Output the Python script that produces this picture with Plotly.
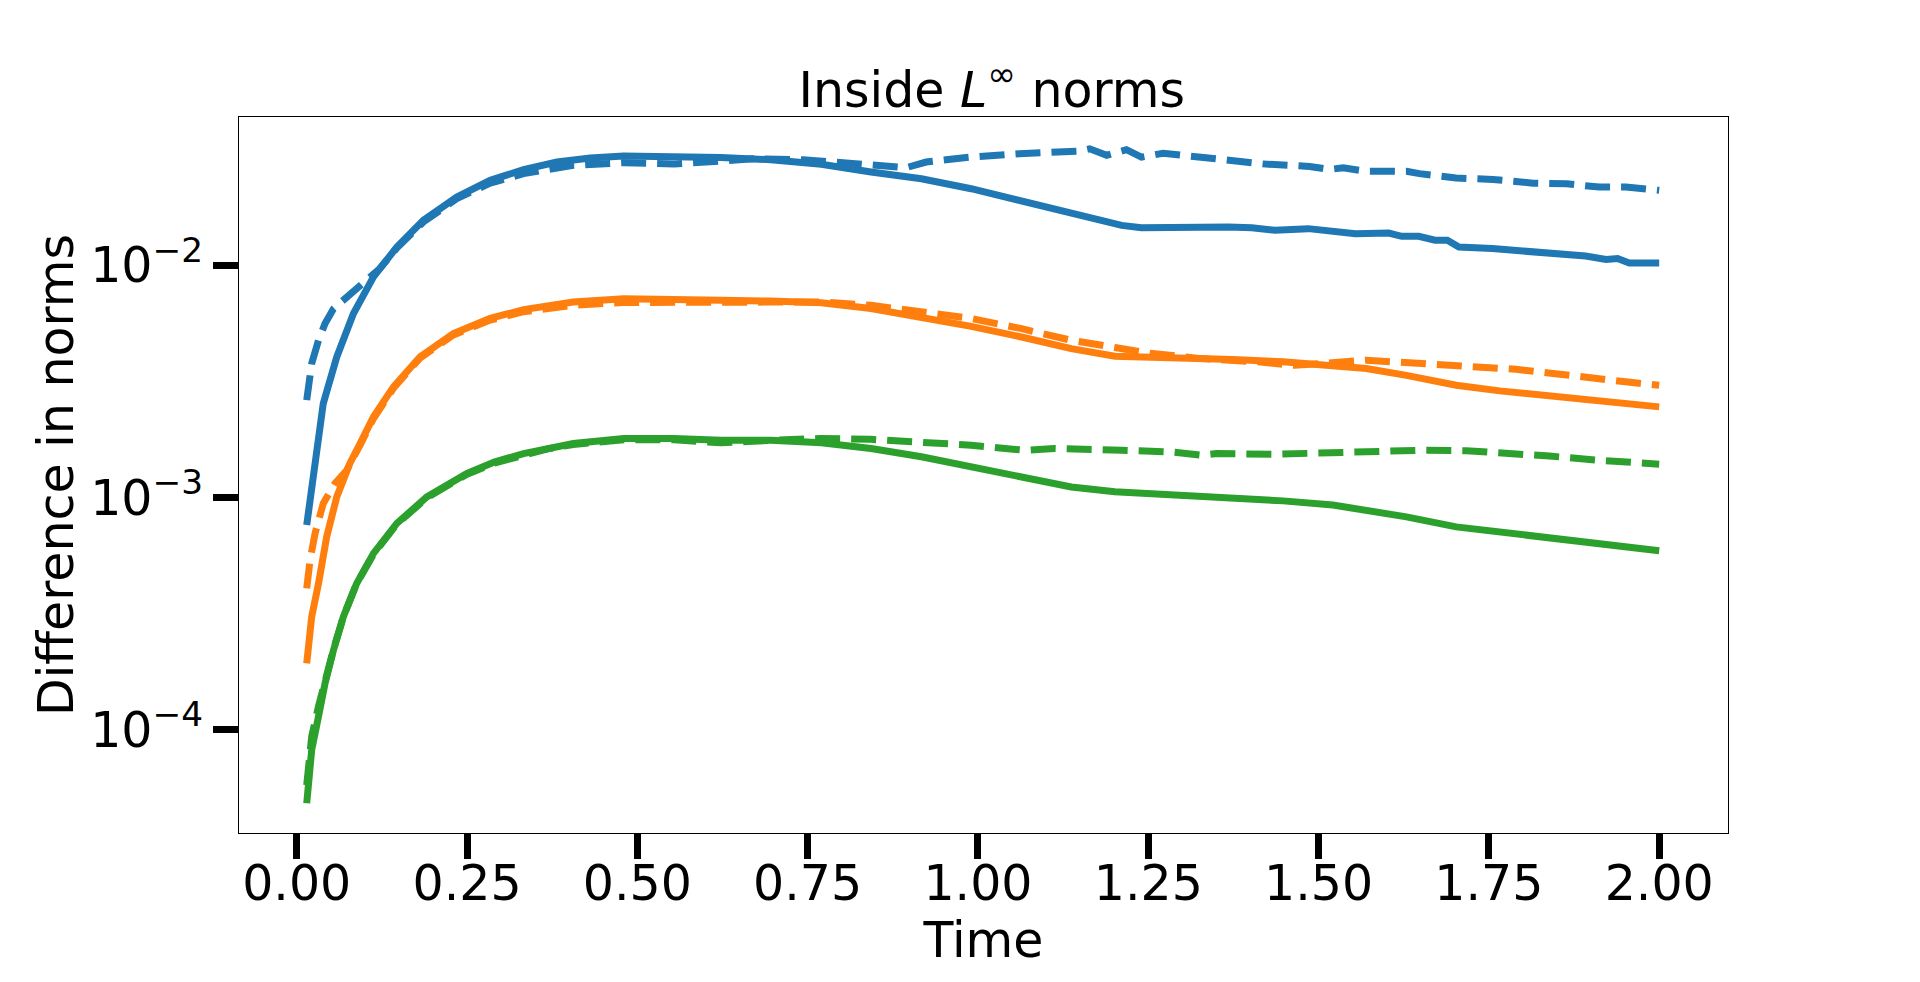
import numpy as np
import plotly.graph_objects as go

# values, stored as log10 of the norm difference
t_blue_solid = [0.0147, 0.0294, 0.039, 0.0588, 0.0833, 0.1127, 0.147, 0.186, 0.235, 0.284, 0.333, 0.382,
                0.431, 0.480, 0.554, 0.6225, 0.696, 0.770, 0.843, 0.917, 0.990, 1.064, 1.137, 1.211, 1.240,
                1.328, 1.368, 1.402, 1.436, 1.485, 1.524, 1.554, 1.603, 1.622, 1.647, 1.671, 1.689, 1.706,
                1.755, 1.819, 1.843, 1.892, 1.922, 1.939, 1.956, 2.0]
log_blue_solid = [-3.119, -2.768, -2.595, -2.395, -2.208, -2.050, -1.921, -1.806, -1.706, -1.634, -1.588, -1.555,
                  -1.538, -1.529, -1.529, -1.536, -1.545, -1.565, -1.598, -1.627, -1.670, -1.723, -1.780, -1.828,
                  -1.838, -1.832, -1.835, -1.838, -1.849, -1.842, -1.857, -1.864, -1.861, -1.875, -1.875, -1.892,
                  -1.892, -1.921, -1.928, -1.943, -1.953, -1.960, -1.975, -1.971, -1.990, -1.990]

t_blue_dash = [0.0147, 0.022, 0.032, 0.0416, 0.054, 0.0734, 0.0978, 0.122, 0.147, 0.186, 0.235, 0.284, 0.333,
               0.406, 0.480, 0.554, 0.6225, 0.670, 0.743, 0.817, 0.895, 0.924, 0.988, 1.061, 1.149, 1.164,
               1.189, 1.218, 1.240, 1.272, 1.326, 1.365, 1.418, 1.487, 1.516, 1.536, 1.570, 1.629, 1.648,
               1.702, 1.756, 1.815, 1.864, 1.912, 1.951, 2.0]
log_blue_dash = [-2.581, -2.423, -2.323, -2.251, -2.187, -2.136, -2.079, -2.014, -1.925, -1.813, -1.713, -1.646,
                 -1.605, -1.569, -1.558, -1.563, -1.551, -1.541, -1.545, -1.560, -1.579, -1.555, -1.534, -1.519,
                 -1.508, -1.498, -1.526, -1.502, -1.534, -1.517, -1.534, -1.541, -1.563, -1.574, -1.587, -1.580,
                 -1.595, -1.595, -1.605, -1.624, -1.630, -1.646, -1.649, -1.663, -1.663, -1.677]

t_orange_solid = [0.0147, 0.022, 0.032, 0.044, 0.0588, 0.078, 0.093, 0.1127, 0.142, 0.181, 0.230, 0.284, 0.333,
                  0.406, 0.480, 0.554, 0.6225, 0.696, 0.770, 0.843, 0.917, 0.990, 1.064, 1.137, 1.201, 1.259,
                  1.328, 1.374, 1.448, 1.521, 1.570, 1.629, 1.663, 1.702, 1.766, 1.839, 1.912, 1.961, 2.0]
log_orange_solid = [-3.715, -3.514, -3.371, -3.170, -2.998, -2.854, -2.768, -2.653, -2.524, -2.395, -2.294, -2.229,
                    -2.191, -2.158, -2.144, -2.144, -2.151, -2.154, -2.161, -2.186, -2.223, -2.263, -2.309, -2.359,
                    -2.392, -2.395, -2.402, -2.406, -2.416, -2.431, -2.445, -2.474, -2.492, -2.517, -2.541, -2.563,
                    -2.584, -2.596, -2.610]

t_orange_dash = [0.0147, 0.0196, 0.027, 0.039, 0.056, 0.0734, 0.093, 0.1127, 0.142, 0.181, 0.230, 0.284, 0.333,
                 0.406, 0.480, 0.554, 0.6225, 0.696, 0.770, 0.843, 0.917, 0.990, 1.064, 1.137, 1.201, 1.249,
                 1.328, 1.374, 1.411, 1.465, 1.521, 1.570, 1.639, 1.692, 1.741, 1.790, 1.844, 1.898, 1.951, 2.0]
log_orange_dash = [-3.392, -3.270, -3.155, -3.026, -2.940, -2.883, -2.775, -2.660, -2.530, -2.400, -2.300, -2.236,
                   -2.200, -2.172, -2.160, -2.160, -2.158, -2.156, -2.158, -2.172, -2.201, -2.229, -2.273, -2.323,
                   -2.354, -2.378, -2.402, -2.409, -2.416, -2.431, -2.421, -2.409, -2.421, -2.431, -2.438, -2.448,
                   -2.466, -2.481, -2.502, -2.517]

t_green_solid = [0.0147, 0.022, 0.032, 0.0416, 0.054, 0.0685, 0.088, 0.1127, 0.147, 0.191, 0.250, 0.290, 0.333,
                 0.370, 0.406, 0.480, 0.554, 0.6225, 0.696, 0.770, 0.843, 0.917, 0.990, 1.064, 1.137, 1.201,
                 1.328, 1.374, 1.448, 1.521, 1.570, 1.629, 1.702, 1.766, 1.815, 1.912, 2.0]
log_green_solid = [-4.318, -4.088, -3.944, -3.801, -3.658, -3.514, -3.371, -3.241, -3.112, -2.998, -2.897, -2.848,
                   -2.811, -2.786, -2.768, -2.746, -2.746, -2.754, -2.754, -2.765, -2.789, -2.825, -2.868, -2.911,
                   -2.955, -2.976, -2.995, -3.000, -3.015, -3.033, -3.055, -3.084, -3.127, -3.148, -3.167, -3.198,
                   -3.230]

t_green_dash = [0.0147, 0.022, 0.032, 0.0416, 0.054, 0.0685, 0.088, 0.1127, 0.147, 0.191, 0.250, 0.290, 0.333,
                0.370, 0.406, 0.480, 0.554, 0.6225, 0.696, 0.770, 0.843, 0.917, 0.990, 1.068, 1.112, 1.211,
                1.284, 1.328, 1.350, 1.438, 1.497, 1.570, 1.648, 1.717, 1.780, 1.839, 1.912, 2.0]
log_green_dash = [-4.240, -4.030, -3.900, -3.790, -3.655, -3.514, -3.371, -3.245, -3.115, -3.002, -2.900, -2.852,
                  -2.815, -2.790, -2.772, -2.752, -2.752, -2.765, -2.754, -2.746, -2.750, -2.760, -2.775, -2.797,
                  -2.789, -2.797, -2.804, -2.818, -2.811, -2.814, -2.808, -2.804, -2.797, -2.799, -2.808, -2.822,
                  -2.840, -2.857]

ytick_vals = [1e-4, 1e-3, 1e-2]
ytick_text = ['10<sup>\u22124</sup>', '10<sup>\u22123</sup>', '10<sup>\u22122</sup>']
xtick_vals = [0.0, 0.25, 0.5, 0.75, 1.0, 1.25, 1.5, 1.75, 2.0]
xtick_text = ['0.00', '0.25', '0.50', '0.75', '1.00', '1.25', '1.50', '1.75', '2.00']

series = [
    (t_blue_solid, log_blue_solid, '#1f77b4', 'solid'),
    (t_blue_dash, log_blue_dash, '#1f77b4', '25px,11px'),
    (t_orange_solid, log_orange_solid, '#ff7f0e', 'solid'),
    (t_orange_dash, log_orange_dash, '#ff7f0e', '25px,11px'),
    (t_green_solid, log_green_solid, '#2ca02c', 'solid'),
    (t_green_dash, log_green_dash, '#2ca02c', '25px,11px'),
]

fig = go.Figure()
for t, lg, col, dash in series:
    fig.add_trace(go.Scatter(x=t, y=10 ** np.array(lg), mode='lines',
                             line=dict(color=col, width=7, dash=dash), showlegend=False))

FONT = 'DejaVu Sans'
# the page body adds an 8px offset, so margins are shifted by that amount
fig.update_layout(
    width=1920, height=982,
    margin=dict(l=231, r=200, t=109, b=157),
    paper_bgcolor='white', plot_bgcolor='white',
    font=dict(family=FONT, size=49, color='black'),
    title=dict(text='Inside <i>L</i><sup>\u221e</sup> norms', x=0.5124, xanchor='center',
               yref='paper', y=1, yanchor='bottom', pad=dict(b=10), font=dict(size=49)),
)
fig.update_xaxes(range=[-0.0847, 2.101], tickvals=xtick_vals, ticktext=xtick_text,
                 ticks='outside', ticklen=25, tickwidth=7, tickcolor='black',
                 ticklabelstandoff=-18,
                 showline=True, linecolor='black', linewidth=1.3, mirror=True,
                 showgrid=False, zeroline=False,
                 title=dict(text='Time', standoff=0, font=dict(size=49)))
fig.update_yaxes(type='log', range=[-4.446, -1.361], tickvals=ytick_vals, ticktext=ytick_text,
                 ticks='outside', ticklen=25, tickwidth=7, tickcolor='black',
                 showline=True, linecolor='black', linewidth=1.3, mirror=True,
                 showgrid=False, zeroline=False,
                 title=dict(text='Difference in norms', standoff=0, font=dict(size=49)))

fig.write_html("out.html")
